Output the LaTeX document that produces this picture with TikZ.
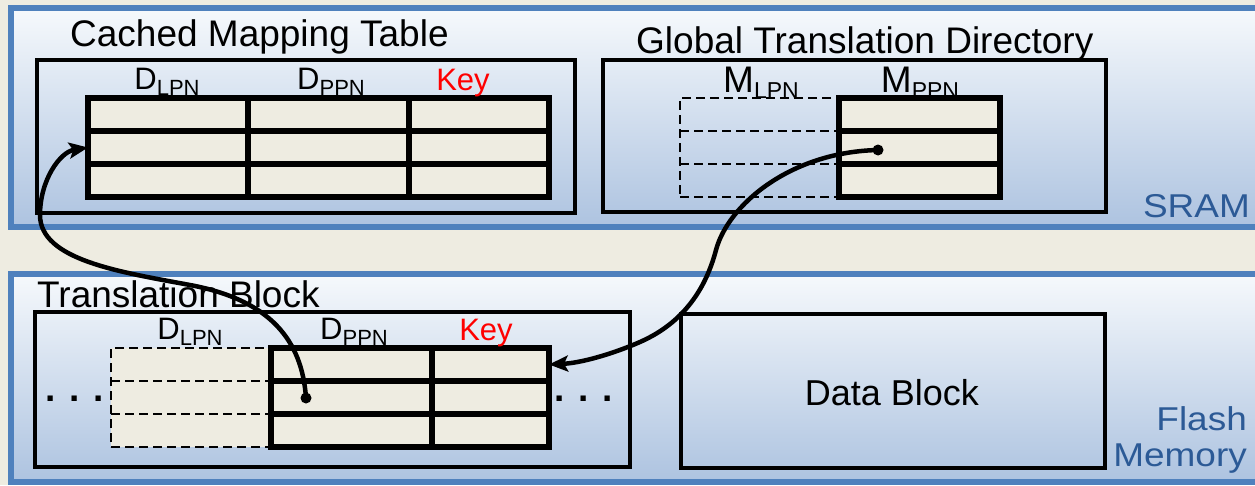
\documentclass[tikz,border=0pt]{standalone}
\usepackage{fontspec}
\setmainfont{Liberation Sans}
\newfontfamily\widesans{Liberation Sans}[FakeStretch=1.12]
\usetikzlibrary{arrows.meta}

\definecolor{paper}{HTML}{EEECE1}
\definecolor{frameblue}{HTML}{4F81BD}
\definecolor{shadetop}{HTML}{F6F9FC}
\definecolor{shadebot}{HTML}{ADC3E0}
\definecolor{memtext}{HTML}{2C5A96}
\definecolor{keyred}{HTML}{FF0000}

\newcommand\fsz[2]{\fontsize{#1}{#2}\selectfont}
\newcommand\lowsub[2]{\raisebox{-6pt}{\fsz{#1}{#1}#2}}

\tikzset{
  memory/.style={draw=frameblue, line width=6pt, top color=shadetop, bottom color=shadebot},
  region/.style={draw, line width=4.5pt},
  cell/.style={draw, line width=5.5pt, fill=paper, rectangle, inner sep=0pt,
               outer sep=0pt, minimum height=33pt, anchor=north west},
  ghostline/.style={dash pattern=on 9pt off 5pt, line width=2.8pt},
  ghost/.style={draw, ghostline, rectangle, inner sep=0pt, outer sep=0pt,
                minimum height=99pt, anchor=north west},
  title/.style={font=\fsz{37}{40}, anchor=base west, inner sep=0pt},
  head/.style={font=\fsz{31}{34}, anchor=base, inner sep=0pt},
  mhead/.style={font=\fsz{37}{40}, anchor=base, inner sep=0pt},
  keyhead/.style={head, text=keyred},
  memlabel/.style={font=\widesans\fsz{33}{36}, text=memtext, inner sep=0pt, align=right},
  ellip/.style={font=\bfseries\fsz{37}{40}, anchor=base, inner sep=0pt},
  pin/.style={circle, fill, inner sep=0pt, minimum size=11pt},
  link/.style={line width=4.5pt, -{Stealth[length=19pt, width=16pt, inset=4pt]}},
}

\begin{document}
\begin{tikzpicture}[x=1pt, y=-1pt]
  % page and background
  \fill[paper] (0,0) rectangle (1255,485);
  \useasboundingbox (0,0) rectangle (1255,485);

  % memory panels
  \draw[memory] (10.5,8) rectangle (1275,227);
  \draw[memory] (10.5,273.5) rectangle (1275,482);
  \node[memlabel, anchor=base east] (sram) at (1250,217) {SRAM};
  \node[memlabel, anchor=base east] (flash) at (1247,466) {Flash\\Memory};

  % ---------- Cached Mapping Table ----------
  \node[title] (cmttitle) at (70,46) {Cached Mapping Table};
  \draw[region] (37,60) rectangle (575,213);
  \foreach \r/\y in {1/98,2/131,3/164} {
    \node[cell, minimum width=160pt] (cmt-\r-1) at (88,\y) {};
    \node[cell, minimum width=161pt] (cmt-\r-2) at (248,\y) {};
    \node[cell, minimum width=140pt] (cmt-\r-3) at (409,\y) {};
  }
  \node[head] (cmtlpn) at (167,89) {D\lowsub{22}{LPN}};
  \node[head] (cmtppn) at (331,89) {D\lowsub{22}{PPN}};
  \node[keyhead] (cmtkey) at (463,90) {Key};

  % ---------- Global Translation Directory ----------
  \node[title] (gtdtitle) at (636,53) {Global Translation Directory};
  \draw[region] (603,60) rectangle (1106,212);
  \node[ghost, minimum width=159pt] (gtdcol) at (680,98) {};
  \foreach \r/\y in {1/98,2/131,3/164} {
    \node[cell, minimum width=161pt] (gtd-\r-2) at (839,\y) {};
  }
  \foreach \r in {1,2} {
    \draw[ghostline] (gtdcol.west |- gtd-\r-2.south) -- (gtd-\r-2.south west);
  }
  \node[mhead] (gtdlpn) at (761,92) {M\lowsub{23}{LPN}};
  \node[mhead] (gtdppn) at (920,92) {M\lowsub{23}{PPN}};

  % ---------- Translation Block ----------
  \node[title] (tbtitle) at (37,307) {Translation Block};
  \draw[region] (35,312) rectangle (630,467);
  \node[ghost, fill=paper, minimum width=160pt] (tbcol) at (111,348) {};
  \foreach \r/\y in {1/348,2/381,3/414} {
    \node[cell, minimum width=161pt] (tb-\r-2) at (271,\y) {};
    \node[cell, minimum width=117pt] (tb-\r-3) at (432,\y) {};
  }
  \foreach \r in {1,2} {
    \draw[ghostline] (tbcol.west |- tb-\r-2.south) -- (tb-\r-2.south west);
  }
  \node[head] (tblpn) at (190,339) {D\lowsub{22}{LPN}};
  \node[head] (tbppn) at (354,339) {D\lowsub{22}{PPN}};
  \node[keyhead] (tbkey) at (486,340) {Key};
  \node[ellip] (moreleft) at (75,401) {. . .};
  \node[ellip] (moreright) at (584,401) {. . .};

  % ---------- Data Block ----------
  \draw[region] (681,314) rectangle (1105,468);
  \node[font=\fsz{36}{40}, anchor=base, inner sep=0pt] (data) at (892,405) {Data Block};

  % ---------- lookups ----------
  \node[pin] (src1) at (306,398) {};
  \node[pin] (src2) at (878,150) {};
  \draw[link] (src1.center) .. controls (302,340) and (270,300) .. (190,285)
                            .. controls (120,272) and (40,260) .. (40,215)
                            .. controls (40,180) and (60,152) .. (cmt-2-1.west);
  \draw[link] (src2.center) .. controls (790,152) and (728,205) .. (716,250)
                            .. controls (708,280) and (690,320) .. (640,342)
                            .. controls (610,355) and (580,363) .. (tb-1-3.east);
\end{tikzpicture}
\end{document}
